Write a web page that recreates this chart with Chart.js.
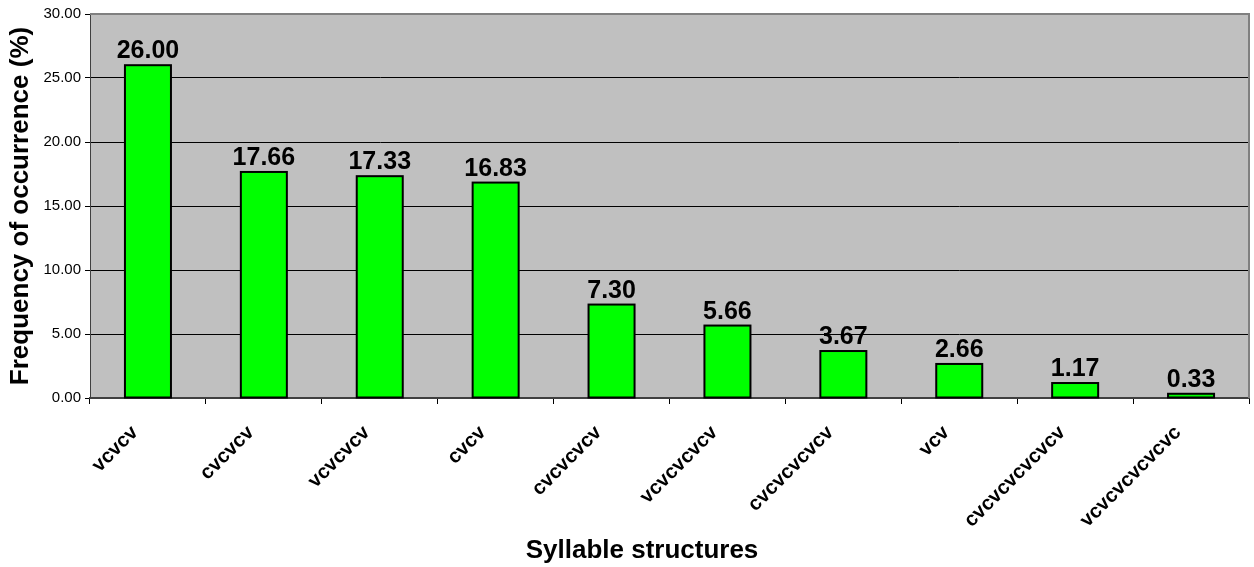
<!DOCTYPE html>
<html>
<head>
<meta charset="utf-8">
<title>Syllable structures</title>
<script src="https://cdn.jsdelivr.net/npm/chart.js@4.4.1/dist/chart.umd.min.js"></script>
<style>
    html, body { margin: 0; padding: 0; background: #ffffff; }
    #wrap { width: 1254px; height: 567px; }
</style>
</head>
<body>
<div id="wrap"><canvas id="syllableChart" width="1254" height="567"></canvas></div>
<script>
// Syllable structure frequencies
const structures = ['vcvcv', 'cvcvcv', 'vcvcvcv', 'cvcv', 'cvcvcvcv', 'vcvcvcvcv',
    'cvcvcvcvcv', 'vcv', 'cvcvcvcvcvcv', 'vcvcvcvcvcvc'];
const frequencies = [26.00, 17.66, 17.33, 16.83, 7.30, 5.66, 3.67, 2.66, 1.17, 0.33];
const yTicks = [0, 5, 10, 15, 20, 25, 30];

const FONT = 'Arial, "Liberation Sans", sans-serif';

// Grey plot background and frame
const plotFrame = {
    id: 'plotFrame',
    beforeDraw(chart) {
        const { ctx, chartArea: a } = chart;
        ctx.save();
        ctx.fillStyle = '#c0c0c0';
        ctx.fillRect(a.left, a.top, a.right - a.left, a.bottom - a.top);
        ctx.restore();
    },
    afterDraw(chart) {
        const { ctx, chartArea: a } = chart;
        ctx.save();
        ctx.strokeStyle = '#808080';
        ctx.lineWidth = 2;
        ctx.beginPath();
        ctx.moveTo(a.left, a.top);
        ctx.lineTo(a.right, a.top);
        ctx.lineTo(a.right, a.bottom);
        ctx.stroke();
        ctx.restore();
    }
};

// Black outline centred on each bar edge, value labels above, x axis title
const barLabels = {
    id: 'barLabels',
    afterDatasetsDraw(chart) {
        const { ctx } = chart;
        const meta = chart.getDatasetMeta(0);
        ctx.save();
        ctx.strokeStyle = '#000000';
        ctx.lineWidth = 2;
        meta.data.forEach(bar => {
            const half = bar.width / 2;
            ctx.strokeRect(bar.x - half, bar.y, bar.width, bar.base - bar.y);
        });
        ctx.fillStyle = '#000000';
        ctx.font = 'bold 25px ' + FONT;
        ctx.textAlign = 'center';
        ctx.textBaseline = 'alphabetic';
        meta.data.forEach((bar, i) => {
            ctx.fillText(frequencies[i].toFixed(2), bar.x, bar.y - 7);
        });
        ctx.font = 'bold 26px ' + FONT;
        ctx.textBaseline = 'middle';
        ctx.fillText('Syllable structures', 642, 551);
        ctx.restore();
    }
};

function initializeChart() {
    const canvas = document.getElementById('syllableChart');
    new Chart(canvas, {
        type: 'bar',
        data: {
            labels: structures,
            datasets: [{
                label: 'Frequency of occurrence (%)',
                data: frequencies,
                backgroundColor: '#00ff00',
                borderWidth: 0,
                categoryPercentage: 1,
                barPercentage: 0.397
            }]
        },
        options: {
            responsive: false,
            animation: false,
            layout: { padding: { top: 14, right: 5, left: 0, bottom: 0 } },
            plugins: {
                legend: { display: false },
                tooltip: { enabled: false }
            },
            scales: {
                x: {
                    grid: {
                        offset: true,
                        drawOnChartArea: false,
                        color: '#000000',
                        tickLength: 6
                    },
                    border: { color: '#404040', width: 2 },
                    ticks: {
                        autoSkip: false,
                        maxRotation: 45,
                        minRotation: 45,
                        padding: 17,
                        labelOffset: -13,
                        color: '#000000',
                        font: { family: FONT, size: 20, weight: 'bold' }
                    },
                    afterFit(scale) { scale.height = 169; }
                },
                y: {
                    min: 0,
                    max: 30,
                    afterBuildTicks(scale) {
                        scale.ticks = yTicks.map(v => ({ value: v }));
                    },
                    grid: { color: '#000000', lineWidth: 1, tickLength: 5 },
                    border: { color: '#404040', width: 1 },
                    ticks: {
                        padding: 4,
                        color: '#000000',
                        font: { family: FONT, size: 15 },
                        callback: v => Number(v).toFixed(2)
                    },
                    title: {
                        display: true,
                        text: 'Frequency of occurrence (%)',
                        color: '#000000',
                        padding: { top: 5, bottom: 0 },
                        font: { family: FONT, size: 26, weight: 'bold' }
                    },
                    afterFit(scale) { scale.width = 90; }
                }
            }
        },
        plugins: [plotFrame, barLabels]
    });
}

document.addEventListener('DOMContentLoaded', initializeChart);
</script>
</body>
</html>
